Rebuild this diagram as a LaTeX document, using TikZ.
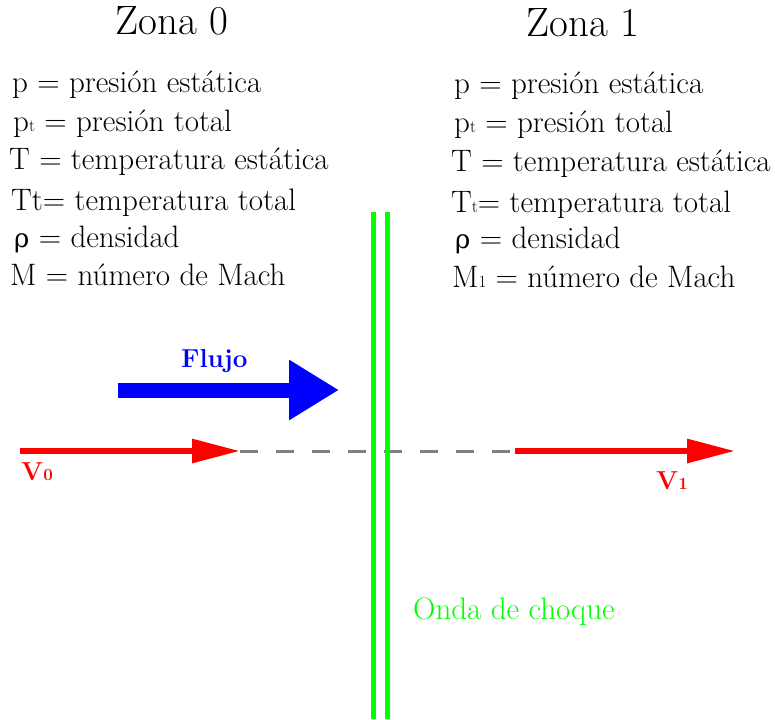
\documentclass[tikz,border=0pt]{standalone}
\usepackage{fontspec}
\newfontfamily\greekf{DejaVu Serif}
\usetikzlibrary{arrows.meta}
\definecolor{shockgreen}{RGB}{0,255,0}
\definecolor{dashgray}{RGB}{128,128,128}
\definecolor{velred}{RGB}{255,0,0}
\definecolor{flowblue}{RGB}{0,0,255}
\newcommand\smsub[1]{{\fontsize{17}{17}\selectfont #1}}
\begin{document}
\begin{tikzpicture}[x=1pt,y=-1pt,
  title/.style={font=\fontsize{41}{43}\selectfont, anchor=base, inner sep=0pt},
  item/.style={font=\fontsize{31}{33}\selectfont, anchor=base west, inner sep=0pt},
  vlabel/.style={font=\fontsize{26}{28}\selectfont\bfseries, text=velred, anchor=base west, inner sep=0pt},
  velarrow/.style={draw=velred, line width=6pt, -{Triangle[length=48pt,width=23pt]}},
  flowarrow/.style={draw=flowblue, line width=15pt, -{Triangle[length=50pt,width=57pt]}},
  axisline/.style={draw=dashgray, line width=3pt, dash pattern=on 18pt off 18pt},
  shockline/.style={draw=shockgreen, line width=4.5pt}]
\useasboundingbox (0,0) rectangle (775,719);
% titles
\node[title] (z0) at (172,35) {Zona 0};
\node[title] (z1) at (583,37) {Zona 1};
% left list
\node[item] (l1) at (12,93) {p = presión estática};
\node[item] (l2) at (13,132) {p\smsub{t} = presión total};
\node[item] (l3) at (9,170) {T = temperatura estática};
\node[item] (l4) at (11,211) {Tt= temperatura total};
\node[item] (l5) at (14,247) {{\greekf\fontsize{26}{28}\selectfont ρ} = densidad};
\node[item] (l6) at (10,285) {M = número de Mach};
% right list
\node[item] (r1) at (454,94) {p = presión estática};
\node[item] (r2) at (454,133) {p\smsub{t} = presión total};
\node[item] (r3) at (451,172) {T = temperatura estática};
\node[item] (r4) at (451,212) {T\smsub{t}= temperatura total};
\node[item] (r5) at (455,248) {{\greekf\fontsize{26}{28}\selectfont ρ} = densidad};
\node[item] (r6) at (452,287) {M\smsub{1} = número de Mach};
% flow arrow
\coordinate (f0) at (118,390);
\coordinate (f1) at (339,390);
\draw[flowarrow] (f0) -- (f1);
\node[font=\fontsize{26}{28}\selectfont\bfseries, text=flowblue, anchor=base west, inner sep=0pt] (flujo) at (181,367) {Flujo};
% axis
\coordinate (a0) at (20,451);
\coordinate (a1) at (240,451);
\coordinate (a2) at (515,451);
\coordinate (a3) at (735,451);
\draw[axisline] (a1) -- (a2);
\draw[velarrow] (a0) -- (a1);
\draw[velarrow] (a2) -- (a3);
\node[vlabel] (v0) at (21,480) {V\smsub{0}};
\node[vlabel] (v1) at (656,489) {V\smsub{1}};
% shock wave
\coordinate (s1t) at (373.5,212);
\coordinate (s1b) at (373.5,719);
\coordinate (s2t) at (387.5,212);
\coordinate (s2b) at (387.5,719);
\draw[shockline] (s1t) -- (s1b);
\draw[shockline] (s2t) -- (s2b);
\node[font=\fontsize{31}{33}\selectfont, text=shockgreen, anchor=base west, inner sep=0pt] (onda) at (413,619) {Onda de choque};
\end{tikzpicture}
\end{document}
